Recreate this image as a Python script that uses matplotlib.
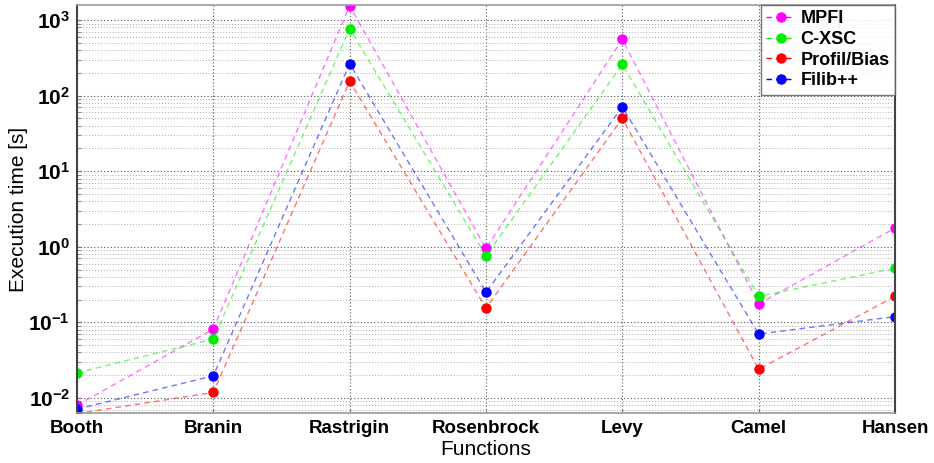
import math
import matplotlib
matplotlib.use("Agg")
import matplotlib.pyplot as plt
from matplotlib.ticker import LogLocator, FixedLocator, NullFormatter, FuncFormatter

plt.rcParams['font.family'] = ['Liberation Sans', 'DejaVu Sans']
plt.rcParams['mathtext.fontset'] = 'custom'
plt.rcParams['mathtext.rm'] = 'Liberation Sans'
plt.rcParams['mathtext.bf'] = 'Liberation Sans:bold'

functions = ["Booth", "Branin", "Rastrigin", "Rosenbrock", "Levy", "Camel", "Hansen"]
mpfi = [0.008, 0.081, 1550, 0.95, 556, 0.175, 1.77]
cxsc = [0.0215, 0.060, 770, 0.76, 259, 0.22, 0.52]
profil = [0.0062, 0.0118, 155, 0.154, 50, 0.024, 0.22]
filib = [0.0071, 0.0196, 265, 0.25, 71, 0.070, 0.119]

series = [("MPFI", mpfi, "#ff00ff"), ("C-XSC", cxsc, "#00ee00"),
          ("Profil/Bias", profil, "#ff0000"), ("Filib++", filib, "#0000ff")]

fig = plt.figure(figsize=(9.34, 4.63), dpi=100)
ax = fig.add_axes([77/934, 1-413/463, (895-77)/934, (413-5)/463])

x = list(range(len(functions)))
for name, vals, col in series:
    ax.plot(x, vals, linestyle=(0, (4, 3)), color=col, alpha=0.55, lw=1.0)
    ax.plot(x, vals, linestyle='none', marker='o', ms=6.5, color=col)
    ax.plot([], [], linestyle=(0, (4, 3)), marker='o', ms=6.5, color=col, lw=1.0, label=name)

ax.set_yscale('log')
ax.set_ylim(10**-2.2, 10**3.2)
ax.set_xlim(0, 6)
ax.set_xticks(x)
ax.set_xticklabels(functions, fontweight='bold', fontsize=13.5)
ax.yaxis.set_major_locator(FixedLocator([1e-2, 1e-1, 1e0, 1e1, 1e2, 1e3]))
ax.yaxis.set_minor_locator(LogLocator(base=10, subs=range(2, 10), numticks=20))
ax.yaxis.set_minor_formatter(NullFormatter())
ax.yaxis.set_major_formatter(FuncFormatter(lambda v, p: r'$\mathbf{10^{%d}}$' % round(math.log10(v))))
for lab in ax.get_yticklabels():
    lab.set_fontsize(15)

ax.grid(True, which='major', axis='both', linestyle=(0, (1, 2)), color='#555555', lw=0.8)
ax.grid(True, which='minor', axis='y', linestyle=(0, (1, 2)), color='#aaaaaa', lw=0.7)
ax.tick_params(axis='both', which='both', direction='in', length=3, color='#777777')
ax.tick_params(axis='x', pad=5)
ax.tick_params(axis='y', pad=5)
for side in ['left', 'right']:
    ax.spines[side].set_color('#444444')
    ax.spines[side].set_linewidth(1.5)
for side in ['top', 'bottom']:
    ax.spines[side].set_color('#999999')
    ax.spines[side].set_linewidth(1.2)

ax.set_xlabel("Functions", fontsize=15, labelpad=2)
ax.set_ylabel("Execution time [s]", fontsize=15)
ax.yaxis.set_label_coords(-49/818, 0.5)

leg = ax.legend(loc='upper right', prop={'weight': 'bold', 'size': 13}, frameon=True,
                fancybox=False, edgecolor='#555555', handlelength=1.6, handletextpad=0.3,
                borderaxespad=0.0, labelspacing=0.2, borderpad=0.3)
leg.get_frame().set_linewidth(1.0)

fig.savefig("out.png", dpi=100)
